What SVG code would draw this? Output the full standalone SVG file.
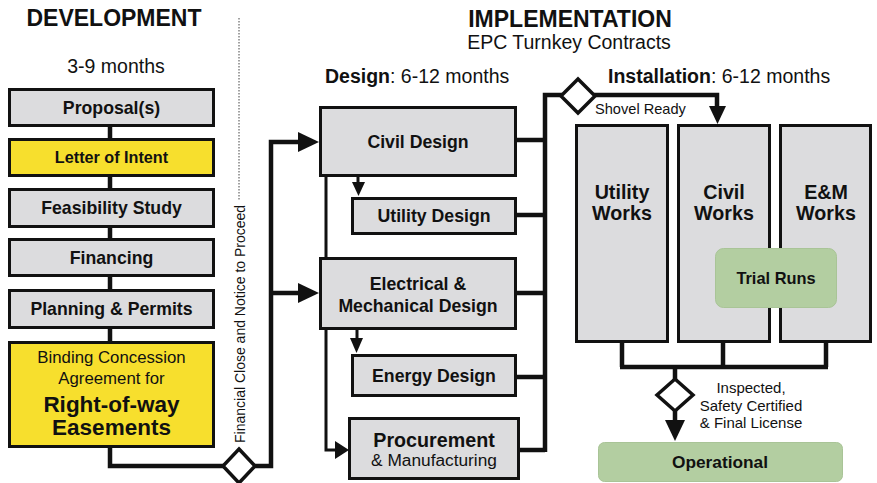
<svg xmlns="http://www.w3.org/2000/svg" width="877" height="483" viewBox="0 0 877 483">
<style>
text{font-family:"Liberation Sans",Arial,sans-serif;fill:#111;}
.h{font-weight:bold;font-size:23px;text-anchor:middle;}
.sub{font-size:19.5px;text-anchor:middle;}
.lbl{font-size:19.5px;}
.b{font-weight:bold;}
.bx{fill:#dcdcde;stroke:#111;stroke-width:3;}
.yl{fill:#f7df2d;stroke:#111;stroke-width:3;}
.gr{fill:#b3cea1;stroke:#a9c497;stroke-width:1;}
.t{font-weight:bold;font-size:17.7px;text-anchor:middle;}
.tw{font-weight:bold;font-size:19.7px;text-anchor:middle;}
.c{fill:none;stroke:#111;stroke-width:4.5;stroke-linejoin:miter;}
.ct{fill:none;stroke:#111;stroke-width:3;}
.ah{fill:#111;stroke:none;}
.dm{fill:#fff;stroke:#111;stroke-width:3.5;}
.sm{font-size:15px;text-anchor:middle;}
</style>

<g id="headers">
<text class="h" x="114" y="26">DEVELOPMENT</text>
<text class="sub" x="116" y="73">3-9 months</text>
<text class="h" x="570" y="27">IMPLEMENTATION</text>
<text class="sub" x="569" y="49">EPC Turnkey Contracts</text>
<text class="lbl" x="325" y="83"><tspan class="b">Design</tspan>: 6-12 months</text>
<text class="lbl" x="608" y="83"><tspan class="b">Installation</tspan>: 6-12 months</text>
</g>

<g id="connectors">
<path class="c" d="M110,120 V448 M110,446 V466 H224 M254,466 H271 V142 H300 M271,293 H300"/>
<polygon class="ah" points="298,132 319,142 298,152"/>
<polygon class="ah" points="298,283 319,293 298,303"/>
<path class="ct" d="M326,177 V258 M326,330 V450 H336"/>
<polygon class="ah" points="335,441 349,450 335,459"/>
<path class="ct" d="M358,177 V183 M357,330 V339"/>
<polygon class="ah" points="352,182 365,182 358.5,196"/>
<polygon class="ah" points="350,338 363,338 356.5,353"/>
<path class="c" d="M517,140 H545 M517,215 H545 M517,293 H545 M517,377 H545 M520,450 H545 M545,452 V95 H562 M594,95 H717 V108"/>
<polygon class="ah" points="709,106 726,106 717.5,124"/>
<path class="c" d="M622,342 V367 M723,342 V367 M826,342 V367 M620,367 H828 M675,367 V381 M675,409 V422"/>
<polygon class="ah" points="665,420 685,420 675,441"/>
<polygon class="dm" points="239,449 255,466 239,483 223,466"/>
<polygon class="dm" points="578,79 595,96 578,113 561,96"/>
<polygon class="dm" points="675,379 693,395 675,411 657,395"/>
<line x1="239" y1="18" x2="239" y2="200" stroke="#444" stroke-width="1" stroke-dasharray="1.5,1.5"/>
<text transform="translate(245,443) rotate(-90)" style="font-size:14px">Financial Close and Notice to Proceed</text>
<text x="595" y="114" style="font-size:14.6px">Shovel Ready</text>
<text class="sm" x="751" y="393">Inspected,</text>
<text class="sm" x="751" y="411">Safety Certified</text>
<text class="sm" x="751" y="428">&amp; Final License</text>
</g>

<g id="proposals"><rect class="bx" x="9.5" y="89.5" width="204" height="36"/><text class="t" x="111.5" y="114">Proposal(s)</text></g>
<g id="letter-of-intent"><rect class="yl" x="9.5" y="139.5" width="204" height="36"/><text class="t" x="111.5" y="163" style="font-size:16.2px">Letter of Intent</text></g>
<g id="feasibility-study"><rect class="bx" x="9.5" y="189.5" width="204" height="37"/><text class="t" x="111.5" y="214">Feasibility Study</text></g>
<g id="financing"><rect class="bx" x="9.5" y="239.5" width="204" height="36"/><text class="t" x="111.5" y="264">Financing</text></g>
<g id="planning-permits"><rect class="bx" x="9.5" y="290.5" width="204" height="37"/><text class="t" x="111.5" y="315">Planning &amp; Permits</text></g>
<g id="binding-concession"><rect class="yl" x="9.5" y="342.5" width="204" height="104"/>
<text x="111.5" y="363" style="font-size:16.8px;text-anchor:middle">Binding Concession</text>
<text x="111.5" y="384" style="font-size:16.8px;text-anchor:middle">Agreement for</text>
<text class="b" x="111.5" y="412" style="font-size:22.5px;text-anchor:middle">Right-of-way</text>
<text class="b" x="111.5" y="435" style="font-size:22.5px;text-anchor:middle">Easements</text>
</g>

<g id="civil-design"><rect class="bx" x="320.5" y="107.5" width="195" height="68"/><text class="t" x="418" y="148">Civil Design</text></g>
<g id="utility-design"><rect class="bx" x="352.5" y="198.5" width="163" height="35"/><text class="t" x="434" y="222">Utility Design</text></g>
<g id="em-design"><rect class="bx" x="320.5" y="258.5" width="195" height="70"/><text class="t" x="418" y="290">Electrical &amp;</text><text class="t" x="418" y="312">Mechanical Design</text></g>
<g id="energy-design"><rect class="bx" x="352.5" y="355.5" width="163" height="40"/><text class="t" x="434" y="382">Energy Design</text></g>
<g id="procurement"><rect class="bx" x="349.5" y="418.5" width="169" height="60"/><text class="t" x="434" y="447" style="font-size:19.7px">Procurement</text><text x="434" y="466" style="font-size:17.3px;text-anchor:middle">&amp; Manufacturing</text></g>

<g id="utility-works"><rect class="bx" x="576.5" y="125.5" width="91" height="216"/><text class="tw" x="622" y="199">Utility</text><text class="tw" x="622" y="220">Works</text></g>
<g id="civil-works"><rect class="bx" x="678.5" y="125.5" width="91" height="216"/><text class="tw" x="724" y="199">Civil</text><text class="tw" x="724" y="220">Works</text></g>
<g id="em-works"><rect class="bx" x="780.5" y="125.5" width="90" height="216"/><text class="tw" x="826" y="199">E&amp;M</text><text class="tw" x="826" y="220">Works</text></g>
<g id="trial-runs"><rect class="gr" x="715.5" y="248.5" width="121" height="59" rx="8"/><text class="t" x="776" y="284" style="font-size:16.4px">Trial Runs</text></g>
<g id="operational"><rect class="gr" x="598.5" y="442.5" width="244" height="39" rx="6"/><text class="t" x="720" y="468" style="font-size:17.3px">Operational</text></g>
</svg>
